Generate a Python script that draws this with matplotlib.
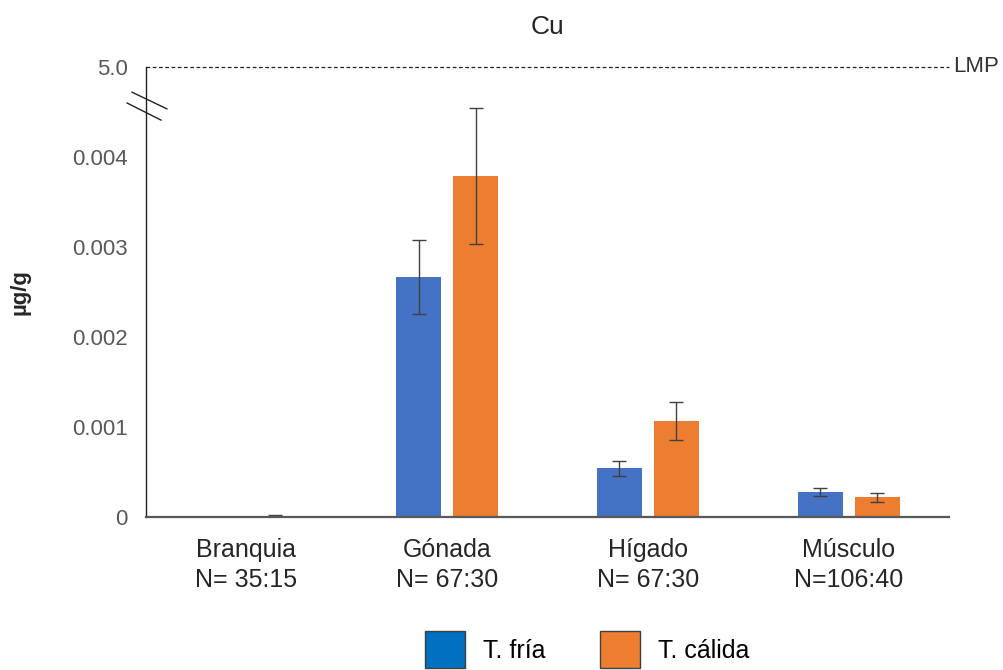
import numpy as np
import matplotlib
matplotlib.use("Agg")
import matplotlib.pyplot as plt
from matplotlib.patches import Patch

categories = ["Branquia", "Gónada", "Hígado", "Músculo"]
n_labels = ["N= 35:15", "N= 67:30", "N= 67:30", "N=106:40"]

fria = [0.0, 0.00267, 0.00054, 0.000278]
fria_err = [0.0, 0.00041, 0.00008, 0.000045]
calida = [0.000012, 0.00379, 0.00107, 0.000222]
calida_err = [0.000008, 0.00076, 0.00021, 0.00005]

yticks = [0, 0.001, 0.002, 0.003, 0.004, 0.005]
ytick_labels = ["0", "0.001", "0.002", "0.003", "0.004", "5.0"]
lmp = 0.005

BLUE = "#4472C4"
ORANGE = "#ED7D31"
GRAY = "#595959"

plt.rcParams["font.family"] = ["Liberation Sans", "DejaVu Sans"]

fig = plt.figure(figsize=(10.04, 6.70), dpi=100)
ax = fig.add_axes([146 / 1004, 1 - 517 / 670, 803 / 1004, 450 / 670])

x = np.arange(len(categories))
w = 0.224
off = 0.142
err_kw = dict(ecolor="#404040", elinewidth=1, capsize=5, capthick=1)
ax.bar(x - off, fria, w, yerr=fria_err, color=BLUE, error_kw=err_kw)
ax.bar(x + off, calida, w, yerr=calida_err, color=ORANGE, error_kw=err_kw)

ax.set_xlim(-0.5, len(categories) - 0.5)
ax.set_ylim(0, lmp)
ax.axhline(lmp, color="#222222", lw=0.9, ls=(0, (3, 2)), clip_on=False)
ax.text(1.005, lmp, "LMP", transform=ax.get_yaxis_transform(), va="center",
        ha="left", fontsize=16, color="#333333")

ax.set_yticks(yticks)
ax.set_yticklabels(ytick_labels)
ax.set_xticks(x)
ax.set_xticklabels([f"{c}\n{n}" for c, n in zip(categories, n_labels)],
                   linespacing=1.35)
ax.tick_params(axis="y", length=0, pad=13, labelsize=16, labelcolor=GRAY)
ax.tick_params(axis="x", length=0, pad=15, labelsize=18, labelcolor="#262626")

for s in ["top", "right"]:
    ax.spines[s].set_visible(False)
ax.spines["left"].set_color("#222222")
ax.spines["left"].set_linewidth(1.0)
ax.spines["bottom"].set_color(GRAY)
ax.spines["bottom"].set_linewidth(1.6)

# axis break marks
ax.plot([-0.0174, 0.026], [0.944, 0.907], transform=ax.transAxes, color="#222222",
        lw=1, clip_on=False)
ax.plot([-0.0236, 0.0187], [0.92, 0.882], transform=ax.transAxes, color="#222222",
        lw=1, clip_on=False)

ax.set_ylabel("µg/g", fontsize=16, fontweight="bold", color="#262626", labelpad=30)
ax.set_title("Cu", fontsize=19, color="#262626", pad=24)

handles = [Patch(facecolor="#0070C0", edgecolor="#404040", label="T. fría"),
           Patch(facecolor=ORANGE, edgecolor="#404040", label="T. cálida")]
fig.legend(handles=handles, loc="center", bbox_to_anchor=(0.585, 0.03), ncol=2,
           frameon=False, fontsize=18, handlelength=1.6, handleheight=1.9,
           columnspacing=2.2, handletextpad=0.7)

fig.savefig("out.png", dpi=100)
